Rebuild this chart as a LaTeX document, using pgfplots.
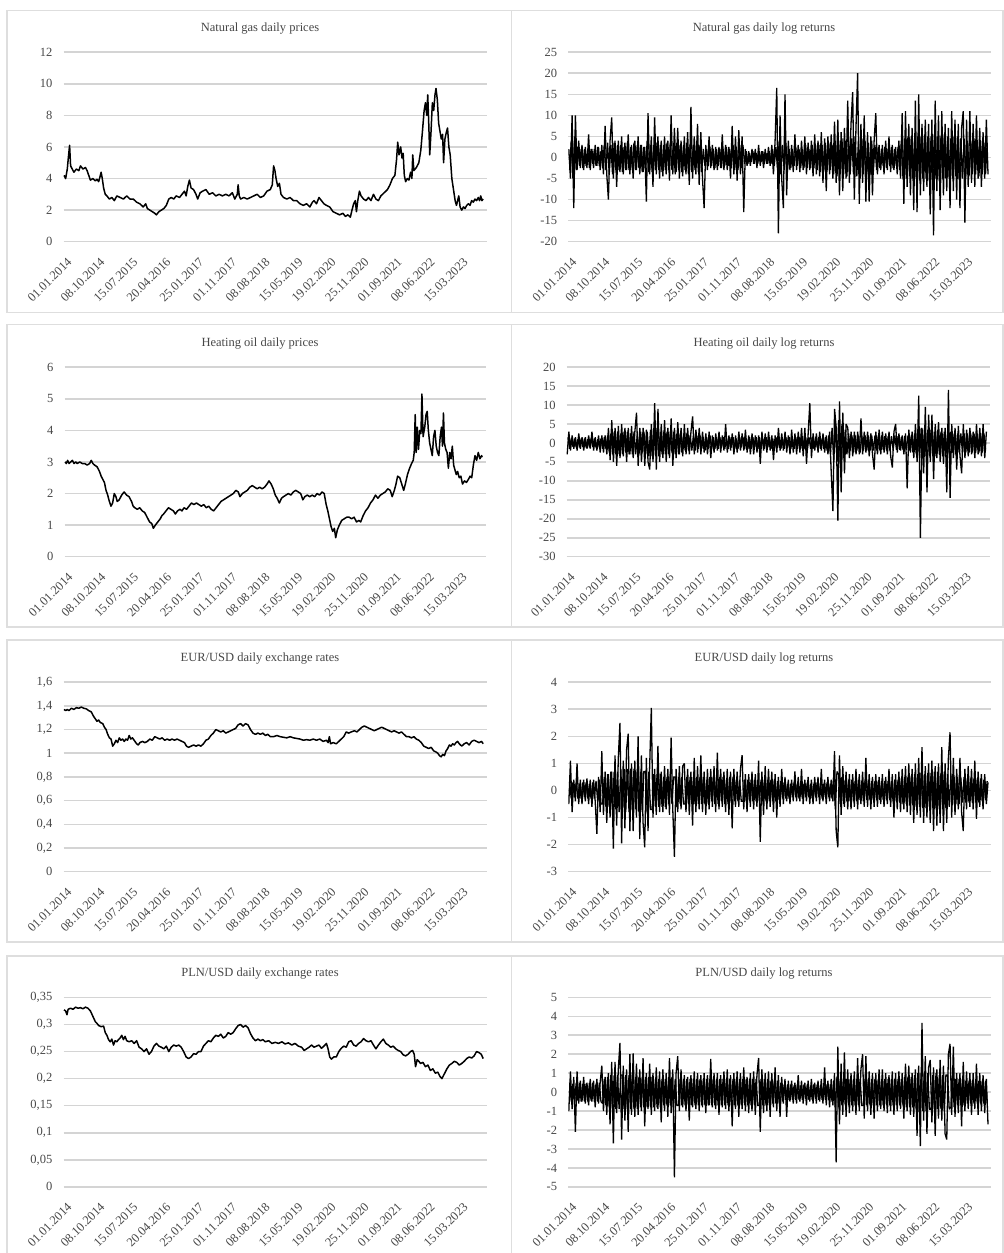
\documentclass[border=0pt]{standalone}
\usepackage{fontspec}
\setmainfont{Liberation Serif}
\usepackage{pgfplots}
\pgfplotsset{compat=1.18}
\definecolor{txt}{HTML}{474747}
\definecolor{grd}{HTML}{D4D4D4}
\definecolor{brd}{HTML}{DEDEDE}
\pgfplotsset{
 panel/.style={
  scale only axis, width=423pt, height=189.5pt, anchor=south west,
  xmin=-3, xmax=2560,
  xtick={0,200,...,2400},
  xticklabels={01.01.2014,08.10.2014,15.07.2015,20.04.2016,25.01.2017,01.11.2017,08.08.2018,15.05.2019,19.02.2020,25.11.2020,01.09.2021,08.06.2022,15.03.2023},
  axis line style={draw=none},
  major tick length=0pt,
  ymajorgrids, grid style={draw=grd, line width=1.6pt},
  tick label style={font=\fontsize{12.5}{14}\selectfont, text=txt},
  xticklabel style={xshift=2.5pt, yshift=-15pt, rotate=45, anchor=north east, inner sep=0pt},
  yticklabel style={anchor=east, inner sep=0pt, xshift=-11pt},
 },
 price/.style={black, line width=1.5pt, no marks, line join=round},
 ret/.style={black, line width=1.3pt, no marks, line join=miter, miter limit=2},
}
\newcommand{\ttl}[1]{{\fontsize{12.5}{15}\selectfont #1}}
\begin{document}
\begin{tikzpicture}
\path[use as bounding box] (0,0) rectangle (1004pt,1253pt);
% panel borders
\draw[brd, line width=1.2pt] (7pt,1242.3pt) rectangle (511.7pt,940.3pt);
\draw[brd, line width=1.2pt] (511.7pt,1242.3pt) rectangle (1003pt,940.3pt);
\draw[brd, line width=1.2pt] (7pt,928.5pt) rectangle (511.7pt,626pt);
\draw[brd, line width=1.2pt] (511.7pt,928.5pt) rectangle (1003pt,626pt);
\draw[brd, line width=1.2pt] (7pt,613pt) rectangle (511.7pt,311pt);
\draw[brd, line width=1.2pt] (511.7pt,613pt) rectangle (1003pt,311pt);
\draw[brd, line width=1.2pt] (7pt,297pt) rectangle (511.7pt,-5pt);
\draw[brd, line width=1.2pt] (511.7pt,297pt) rectangle (1003pt,-5pt);
% titles
\node[text=txt] at (260pt,1224pt) {\ttl{Natural gas daily prices}};
\node[text=txt] at (764pt,1224pt) {\ttl{Natural gas daily log returns}};
\node[text=txt] at (260pt,909pt) {\ttl{Heating oil daily prices}};
\node[text=txt] at (764pt,909pt) {\ttl{Heating oil daily log returns}};
\node[text=txt] at (260pt,594pt) {\ttl{EUR/USD daily exchange rates}};
\node[text=txt] at (764pt,594pt) {\ttl{EUR/USD daily log returns}};
\node[text=txt] at (260pt,279pt) {\ttl{PLN/USD daily exchange rates}};
\node[text=txt] at (764pt,279pt) {\ttl{PLN/USD daily log returns}};

% ---------- Natural gas prices
\begin{axis}[panel, at={(63.5pt,1011.3pt)}, ymin=0, ymax=12, ytick={0,2,...,12}, yticklabels={0,2,4,6,8,10,12}]
\addplot[price] coordinates {(0,4.2)(10,4.0)(20,4.6)(28,5.5)(34,6.1)(40,4.8)(50,4.6)(60,4.4)(75,4.6)(90,4.5)(100,4.8)(115,4.6)(130,4.7)(140,4.5)(150,4.2)(160,3.9)(175,4.0)(190,3.85)(200,3.95)(210,3.8)(218,4.1)(225,4.4)(232,4.0)(240,3.4)(250,3.0)(260,2.9)(275,2.7)(290,2.8)(305,2.6)(320,2.9)(340,2.8)(360,2.7)(380,2.9)(400,2.7)(420,2.7)(440,2.5)(460,2.4)(480,2.2)(495,2.4)(505,2.1)(520,2.0)(535,1.9)(550,1.8)(560,1.7)(575,1.9)(590,2.0)(605,2.1)(620,2.3)(635,2.7)(650,2.8)(665,2.7)(680,2.9)(700,2.8)(715,3.0)(730,3.2)(740,2.9)(750,3.5)(760,3.9)(770,3.4)(785,3.3)(800,3.0)(810,2.7)(825,3.1)(840,3.2)(860,3.3)(880,3.0)(900,3.1)(920,2.9)(940,3.0)(960,2.9)(980,3.0)(1000,2.9)(1020,3.1)(1035,2.7)(1050,3.0)(1055,3.6)(1062,2.9)(1070,2.7)(1090,2.8)(1110,2.7)(1130,2.8)(1150,2.9)(1170,3.0)(1190,2.8)(1210,2.9)(1230,3.2)(1250,3.3)(1262,3.6)(1270,4.8)(1278,4.5)(1285,4.0)(1295,3.5)(1305,3.7)(1315,3.0)(1330,2.8)(1350,2.7)(1370,2.8)(1390,2.6)(1410,2.6)(1430,2.4)(1450,2.3)(1470,2.4)(1490,2.2)(1505,2.5)(1515,2.6)(1530,2.4)(1545,2.8)(1560,2.6)(1575,2.4)(1590,2.3)(1610,2.2)(1630,1.9)(1650,1.8)(1670,1.7)(1690,1.8)(1705,1.6)(1720,1.7)(1735,1.55)(1745,2.0)(1755,2.4)(1765,2.6)(1772,1.9)(1780,2.6)(1790,3.2)(1800,2.9)(1815,2.7)(1830,2.6)(1845,2.8)(1860,2.6)(1875,3.0)(1890,2.7)(1905,2.6)(1920,2.9)(1940,3.1)(1960,3.3)(1975,3.6)(1990,4.0)(2005,4.2)(2015,5.2)(2022,6.3)(2030,5.5)(2040,6.0)(2048,5.3)(2055,5.6)(2062,4.2)(2070,3.8)(2080,4.0)(2090,3.9)(2100,4.4)(2108,4.0)(2113,5.5)(2120,4.5)(2135,4.7)(2150,5.0)(2162,5.8)(2172,7.0)(2182,8.3)(2190,8.8)(2198,8.0)(2204,9.3)(2210,7.5)(2216,5.5)(2224,7.0)(2232,8.8)(2240,8.3)(2248,9.3)(2254,9.7)(2262,9.0)(2270,7.5)(2278,7.0)(2286,6.5)(2294,6.8)(2300,5.0)(2308,6.5)(2316,6.9)(2324,7.2)(2332,6.0)(2340,5.5)(2350,4.0)(2360,3.3)(2370,2.6)(2378,2.3)(2385,2.6)(2392,2.9)(2400,2.2)(2410,2.0)(2420,2.2)(2430,2.1)(2440,2.3)(2450,2.4)(2460,2.3)(2470,2.6)(2480,2.5)(2490,2.7)(2500,2.6)(2510,2.8)(2518,2.6)(2525,2.9)(2532,2.6)(2540,2.7)};
\end{axis}

% ---------- Natural gas returns
\begin{axis}[panel, at={(568.3pt,1011.3pt)}, ymin=-20, ymax=25, ytick={-20,-15,...,25}, yticklabels={-20,-15,-10,-5,0,5,10,15,20,25}]
\addplot[ret] table[x expr=\coordindex*10, y index=0, header=false, row sep=\\] {
2\\ -5\\ 10\\ -12\\ 10\\ -3\\ 4\\ -2.5\\ 3\\ -3\\
2.5\\ -2.5\\ 5.5\\ -3\\ 2\\ -2.5\\ 3\\ -2\\ 2.5\\ -3\\
3\\ -4\\ 7.5\\ -4\\ -10\\ 4\\ 9.5\\ -5\\ 4\\ -7\\
4\\ -3.5\\ 5\\ -4\\ 3.5\\ -3\\ 5.5\\ -4\\ 3\\ -5\\
4\\ -3\\ 5\\ -4\\ 3\\ -3.5\\ 2.5\\ -10.5\\ 10.5\\ -4\\
5\\ -7\\ 9.5\\ -4\\ 5\\ -5\\ 4\\ -4.5\\ 5\\ -4\\
4\\ -5.5\\ 10\\ -4\\ 7\\ -3.5\\ 7\\ -5\\ 4\\ -4.5\\
5\\ -4\\ 6\\ -6.5\\ 12\\ -5\\ 5\\ -4\\ 8\\ -6.5\\
6\\ -5\\ -12\\ 3\\ -3\\ 5\\ -2.5\\ 3\\ -3\\ 2.5\\
-3\\ 2.5\\ -2.5\\ 5.5\\ -3\\ 3\\ -3\\ 2.5\\ -5\\ 7.5\\
-4\\ 5\\ -5.5\\ 6.5\\ -4\\ 5\\ -13\\ 2\\ -2\\ 1.5\\
-2\\ 2\\ -1.5\\ 2\\ -2.5\\ 3\\ -2\\ 1.5\\ -2.5\\ 2\\
-1.5\\ 2.5\\ -2\\ 3\\ -4\\ 4\\ 16.5\\ -18\\ 10\\ -5\\
-12\\ 15\\ -9\\ 4\\ -3\\ 3\\ -3.5\\ 5.5\\ -3\\ 3\\
-3.5\\ 4\\ -3\\ 5\\ -4\\ 3.5\\ -3\\ 4\\ -4.5\\ 5.5\\
-4\\ 4\\ -4.5\\ 6\\ -6\\ 4.5\\ -8\\ 5\\ -4\\ 5.5\\
-5\\ 8.5\\ -6\\ 9\\ -9\\ 6\\ -8\\ 7\\ -5\\ 13.5\\
-6\\ 8\\ 15.5\\ -10\\ 7\\ 20\\ -11\\ 8\\ -6\\ 10\\
-10.5\\ 6\\ -10.5\\ 5\\ -9\\ 4\\ 10.5\\ -4\\ 3\\ -3\\
3\\ -4\\ 4\\ -3\\ 5\\ -3.5\\ 3\\ -3\\ 2.5\\ -4\\
4\\ -5\\ 10.5\\ -11\\ 11\\ -7\\ 8\\ -9\\ 7\\ -12.5\\
13.5\\ -13\\ 15\\ -9\\ 8\\ -8\\ 9\\ -7\\ 8\\ -13.5\\
9\\ -18.5\\ 13.5\\ -8\\ 10\\ -12.5\\ 11\\ -9\\ 8\\ -8\\
7\\ -12\\ 11\\ -8\\ 9\\ -10\\ 8\\ -12\\ 7\\ 11\\
-15.5\\ 9\\ -7\\ 11\\ -6\\ 8\\ -7\\ 10\\ -5\\ 7\\
-7\\ 6\\ -5\\ 9\\ -4\\
};
\addplot[ret] table[x expr=\coordindex*10+5, y index=0, header=false, row sep=\\] {
-3\\ 4\\ -5\\ 5\\ -3\\ 2.5\\ -2\\ 2\\ -2.5\\ 2\\
-2\\ 2\\ -2.5\\ 2\\ -1.5\\ 2\\ -2\\ 2.5\\ -2\\ 1.5\\
-2.5\\ 3\\ -3\\ 3.5\\ -4\\ 3\\ -4\\ 3.5\\ -3\\ 3\\
-3\\ 3\\ -3.5\\ 2.5\\ -3\\ 3.5\\ -3\\ 2.5\\ -3\\ 3.5\\
-3\\ 3\\ -2.5\\ 3\\ -3.5\\ 2.5\\ -3\\ 4\\ -3.5\\ 3\\
-3.5\\ 3\\ -3\\ 3.5\\ -3\\ 3\\ -3.5\\ 3\\ -3\\ 3.5\\
-3\\ 3.5\\ -3\\ 3\\ -4\\ 3.5\\ -3\\ 3\\ -3.5\\ 3\\
-3\\ 3.5\\ -4\\ 3\\ -3.5\\ 3\\ -3\\ 4\\ -3.5\\ 3\\
-3.5\\ 2\\ -2\\ 2\\ -2\\ 2.5\\ -2\\ 2\\ -2.5\\ 2\\
-2\\ 2\\ -2.5\\ 2\\ -2\\ 2.5\\ -2\\ 2\\ -2.5\\ 3\\
-3\\ 2.5\\ -3\\ 3\\ -2.5\\ 3\\ -1.5\\ 1.5\\ -1.5\\ 1\\
-1\\ 1.5\\ -1.5\\ 1\\ -1.5\\ 1.5\\ -1\\ 1.5\\ -1.5\\ 1\\
-1.5\\ 1.5\\ -1.5\\ 2\\ -2\\ 2.5\\ -3\\ 4\\ -4\\ 3\\
-3\\ 3.5\\ -3\\ 2\\ -2.5\\ 2\\ -2\\ 2.5\\ -2\\ 2\\
-2.5\\ 2\\ -2.5\\ 3\\ -2.5\\ 2\\ -2.5\\ 3\\ -2.5\\ 3\\
-3\\ 3\\ -3.5\\ 3\\ -3\\ 3.5\\ -3\\ 3.5\\ -3\\ 3\\
-4\\ 4\\ -4.5\\ 4\\ -4\\ 4.5\\ -4\\ 4\\ -4.5\\ 4\\
-4\\ 4.5\\ -4\\ 5\\ -4.5\\ 4\\ -5\\ 4.5\\ -4\\ 4\\
-4\\ 3.5\\ -4\\ 4\\ -3.5\\ 3\\ -3\\ 2.5\\ -2.5\\ 2\\
-2\\ 2.5\\ -2.5\\ 2\\ -2\\ 2.5\\ -2.5\\ 2\\ -2\\ 2.5\\
-3\\ 4\\ -5\\ 4.5\\ -5\\ 5\\ -4.5\\ 5\\ -5\\ 4.5\\
-5\\ 5\\ -5.5\\ 5\\ -5\\ 5.5\\ -5\\ 5\\ -5.5\\ 5\\
-5\\ 5.5\\ -5\\ 5\\ -5.5\\ 5\\ -5\\ 5.5\\ -5\\ 5\\
-5\\ 4.5\\ -5\\ 5\\ -4.5\\ 5\\ -5\\ 4.5\\ -5\\ 4.5\\
-4.5\\ 4\\ -4.5\\ 4\\ -4\\ 4.5\\ -4\\ 4\\ -4.5\\ 4\\
-4\\ 3.5\\ -4\\ 3.5\\
};
\end{axis}

% ---------- Heating oil prices
\begin{axis}[panel, at={(64.5pt,696.3pt)}, width=421pt, ymin=0, ymax=6, ytick={0,1,...,6}, yticklabels={0,1,2,3,4,5,6}]
\addplot[price] coordinates {(0,3.0)(8,2.95)(16,3.05)(25,2.95)(35,3.0)(45,3.05)(55,2.95)(65,3.0)(75,2.95)(90,3.0)(105,2.95)(120,2.95)(135,2.9)(150,2.95)(160,3.05)(170,2.95)(180,2.9)(195,2.85)(210,2.7)(220,2.55)(230,2.45)(240,2.35)(250,2.1)(260,1.95)(270,1.75)(280,1.6)(290,1.7)(300,2.0)(310,1.9)(318,1.75)(330,1.8)(345,1.95)(360,2.05)(375,1.95)(390,1.9)(405,1.75)(415,1.6)(425,1.55)(440,1.5)(455,1.55)(470,1.45)(485,1.4)(500,1.25)(515,1.1)(528,1.05)(538,0.9)(550,1.0)(565,1.1)(580,1.2)(590,1.3)(600,1.35)(615,1.45)(630,1.55)(645,1.5)(660,1.45)(672,1.35)(685,1.45)(700,1.5)(712,1.45)(725,1.55)(740,1.5)(755,1.6)(770,1.7)(785,1.65)(800,1.7)(815,1.65)(830,1.6)(845,1.65)(860,1.55)(875,1.6)(890,1.5)(905,1.45)(920,1.55)(935,1.65)(950,1.75)(965,1.8)(980,1.85)(995,1.9)(1010,1.95)(1025,2.0)(1040,2.1)(1055,2.05)(1065,1.9)(1080,2.0)(1095,2.05)(1110,2.1)(1125,2.2)(1140,2.25)(1155,2.2)(1170,2.15)(1185,2.2)(1200,2.15)(1215,2.2)(1230,2.3)(1242,2.4)(1255,2.3)(1268,2.15)(1280,1.95)(1292,1.85)(1305,1.7)(1318,1.85)(1330,1.9)(1345,1.95)(1360,2.0)(1375,1.95)(1390,2.05)(1405,2.1)(1420,2.05)(1435,2.0)(1448,1.8)(1460,1.9)(1475,1.95)(1490,1.9)(1505,1.95)(1520,1.9)(1535,2.0)(1550,1.95)(1565,2.05)(1578,2.0)(1590,1.65)(1600,1.45)(1610,1.2)(1620,0.95)(1630,0.8)(1640,0.9)(1648,0.6)(1658,0.85)(1670,1.0)(1685,1.15)(1700,1.2)(1715,1.25)(1730,1.25)(1745,1.2)(1760,1.25)(1775,1.1)(1790,1.15)(1800,1.1)(1815,1.3)(1830,1.45)(1845,1.55)(1860,1.7)(1875,1.8)(1890,1.95)(1905,1.85)(1920,1.95)(1935,2.0)(1950,2.05)(1965,2.15)(1980,2.1)(1992,1.9)(2005,2.1)(2015,2.3)(2025,2.55)(2038,2.5)(2050,2.3)(2062,2.1)(2072,2.3)(2085,2.6)(2098,2.8)(2110,2.95)(2120,3.05)(2126,3.3)(2132,4.5)(2138,3.3)(2145,4.1)(2152,3.4)(2160,4.0)(2167,3.9)(2173,5.15)(2180,3.8)(2190,4.1)(2198,4.5)(2205,4.6)(2212,4.0)(2220,3.6)(2228,3.4)(2236,3.2)(2244,3.8)(2252,4.0)(2260,3.5)(2268,3.3)(2276,3.2)(2284,3.8)(2292,4.1)(2298,3.5)(2304,4.55)(2310,3.6)(2318,3.4)(2326,3.3)(2334,2.8)(2342,3.3)(2350,3.1)(2358,3.5)(2366,2.9)(2374,2.75)(2382,2.6)(2390,2.7)(2400,2.5)(2410,2.55)(2420,2.3)(2432,2.4)(2444,2.35)(2456,2.45)(2466,2.55)(2476,2.5)(2486,2.9)(2496,3.2)(2506,3.05)(2516,3.3)(2526,3.1)(2536,3.2)(2540,3.15)};
\end{axis}

% ---------- Heating oil returns
\begin{axis}[panel, at={(566.7pt,696.3pt)}, ymin=-30, ymax=20, ytick={-30,-25,...,20}, yticklabels={-30,-25,-20,-15,-10,-5,0,5,10,15,20}]
\addplot[ret] table[x expr=\coordindex*10, y index=0, header=false, row sep=\\] {
-3\\ 3\\ -2\\ 2\\ -1.5\\ 1.5\\ -2\\ 2.5\\ -1.5\\ 1.5\\
-2\\ 1.5\\ -1.5\\ 2\\ -1.5\\ 3\\ -2\\ 1.5\\ -2\\ 2\\
-2.5\\ 2\\ -2.5\\ 2\\ -3\\ 4\\ -4.5\\ 6\\ -5\\ 4\\
-6\\ 4.5\\ -4\\ 5\\ -3.5\\ 4\\ -5\\ 4\\ -3\\ 4.5\\
-4\\ 3\\ 8\\ -6\\ 4\\ -5\\ 4\\ -6\\ 3.5\\ -5\\
-7\\ 5\\ -5\\ 10.5\\ -7\\ 9\\ -5\\ 5\\ -4\\ 6\\
-5\\ 4\\ -4\\ 6.5\\ -6\\ 4\\ -4\\ 5.5\\ -3\\ 4\\
-3.5\\ 5\\ -3\\ 4\\ -3\\ 3\\ 7\\ -3\\ 3.5\\ -2.5\\
4\\ -3\\ 3\\ -2.5\\ 2.5\\ -3\\ 3\\ -4\\ 2\\ -2.5\\
2.5\\ -2\\ 3\\ -2.5\\ 2\\ -2\\ 5\\ -2.5\\ 2\\ -2\\
2.5\\ -3\\ 2\\ -2.5\\ 3\\ -2\\ 2.5\\ -2\\ 3.5\\ -2.5\\
2\\ -3\\ 2.5\\ -3\\ 2\\ -2.5\\ 2\\ -5.5\\ 3\\ -2\\
2.5\\ -2.5\\ 3\\ -2\\ 2\\ -4.5\\ 2\\ -2.5\\ 4\\ -2\\
2.5\\ -2\\ 3\\ -2.5\\ 2\\ -3\\ 3.5\\ -2.5\\ 2.5\\ -3\\
3\\ -2.5\\ 4\\ -3.5\\ 4\\ -5.5\\ 2.5\\ 10.5\\ -4\\ 2.5\\
-2\\ 2.5\\ -2.5\\ 3\\ -2\\ 2.5\\ -2.5\\ 2\\ -3\\ 3\\
-8\\ -18\\ 9\\ 4\\ -20.5\\ 11\\ -13\\ 8\\ -8\\ 5\\
4\\ -4\\ 3\\ -3.5\\ 3\\ -3\\ 3\\ -3\\ 6.5\\ -3\\
3\\ -2.5\\ 3\\ -3.5\\ 2.5\\ -3\\ -7\\ 3\\ -3\\ 3.5\\
-3\\ 3\\ -2.5\\ 2.5\\ -3\\ 3\\ -3.5\\ -6.5\\ 3\\ 5\\
-2.5\\ 2.5\\ -2\\ 2\\ -3\\ 2.5\\ -12\\ 3.5\\ -2.5\\ 3\\
-4\\ 5\\ -5\\ 12.5\\ -25\\ 4\\ -8\\ 9.5\\ -13\\ 7.5\\
-5\\ 7.5\\ -9.5\\ 5\\ -4\\ 5.5\\ -5\\ 4\\ -5.5\\ 4\\
-13\\ 14\\ -14.5\\ 5\\ -4\\ 4\\ -7\\ 4.5\\ -3.5\\ -8\\
5\\ -4\\ 3.5\\ -3.5\\ 4\\ -3\\ 3\\ -4\\ 5\\ -3\\
4\\ -3.5\\ 5\\ -4\\ 3\\
};
\addplot[ret] table[x expr=\coordindex*10+5, y index=0, header=false, row sep=\\] {
1.5\\ -1.5\\ 1.2\\ -1\\ 1.2\\ -1.2\\ 1\\ -1.2\\ 1.2\\ -1\\
1.2\\ -1.2\\ 1\\ -1.2\\ 1.2\\ -1\\ 1.2\\ -1.2\\ 1\\ -1.2\\
1.2\\ -1.5\\ 1.5\\ -1.5\\ 2\\ -2.5\\ 2.5\\ -3\\ 3\\ -3\\
3\\ -3\\ 2.5\\ -3\\ 3\\ -2.5\\ 3\\ -3\\ 2.5\\ -3\\
3\\ -3\\ 2.5\\ -3\\ 3\\ -2.5\\ 3\\ -3\\ 3\\ -3.5\\
3.5\\ -3.5\\ 4\\ -3.5\\ 4\\ -3.5\\ 3\\ -3\\ 3\\ -3\\
3\\ -3\\ 3\\ -2.5\\ 3\\ -3\\ 2.5\\ -3\\ 2.5\\ -2.5\\
2\\ -2\\ 2.5\\ -2\\ 2\\ -2\\ 2\\ -2\\ 2\\ -1.5\\
2\\ -1.5\\ 1.5\\ -2\\ 1.5\\ -1.5\\ 2\\ -1.5\\ 1.5\\ -1.5\\
1.5\\ -1.5\\ 1.5\\ -1.2\\ 1.5\\ -1.5\\ 1.2\\ -1.5\\ 1.5\\ -1.2\\
1.5\\ -1.5\\ 1.2\\ -1.5\\ 1.5\\ -1.2\\ 1.5\\ -1.5\\ 1.2\\ -1.5\\
1.5\\ -1.5\\ 1.5\\ -1.2\\ 1.5\\ -1.5\\ 1.5\\ -1.5\\ 1.2\\ -1.5\\
1.5\\ -1.2\\ 1.5\\ -1.5\\ 1.2\\ -1.5\\ 1.5\\ -1.2\\ 1.5\\ -1.5\\
1.2\\ -1.5\\ 1.5\\ -1.2\\ 1.5\\ -1.5\\ 1.2\\ -1.5\\ 1.5\\ -1.5\\
1.5\\ -1.5\\ 1.8\\ -1.5\\ 1.5\\ -1.8\\ 1.5\\ -1.5\\ 1.5\\ -1.5\\
1.5\\ -1.2\\ 1.5\\ -1.5\\ 1.2\\ -1.5\\ 1.5\\ -2\\ 2\\ -3\\
4\\ -5\\ 5\\ -5\\ 6\\ -5\\ 5\\ -4\\ 3.5\\ -3\\
2.5\\ -2\\ 2\\ -2.5\\ 2\\ -2\\ 2\\ -2.5\\ 2\\ -2\\
2\\ -2\\ 2\\ -2\\ 2\\ -2\\ 2\\ -2\\ 2\\ -2\\
2\\ -1.8\\ 1.8\\ -2\\ 1.8\\ -2\\ 1.8\\ -1.8\\ 2\\ -1.8\\
1.8\\ -1.8\\ 1.5\\ -1.8\\ 1.8\\ -1.8\\ 2\\ -2\\ 2\\ -2.5\\
2.5\\ -3\\ 3.5\\ -4\\ 4\\ -4\\ 4\\ -3.5\\ 3.5\\ -3.5\\
3.5\\ -3.5\\ 3\\ -3.5\\ 3.5\\ -3\\ 3\\ -3.5\\ 3\\ -3\\
3\\ -3\\ 3\\ -2.5\\ 2.5\\ -3\\ 2.5\\ -2.5\\ 2.5\\ -2.5\\
2.5\\ -2.5\\ 2.5\\ -2.5\\ 2.5\\ -2.5\\ 2.5\\ -2.5\\ 2.5\\ -2.5\\
2.5\\ -2.5\\ 2.5\\ -2\\
};
\end{axis}

% ---------- EUR/USD rates
\begin{axis}[panel, at={(63.5pt,381.3pt)}, ymin=0, ymax=1.6, ytick={0,0.2,...,1.6}, yticklabels={0,{0,2},{0,4},{0,6},{0,8},1,{1,2},{1,4},{1,6}}]
\addplot[price] coordinates {(0,1.37)(10,1.36)(20,1.37)(30,1.36)(45,1.38)(60,1.37)(75,1.385)(90,1.38)(105,1.39)(120,1.38)(135,1.375)(150,1.36)(165,1.35)(180,1.31)(190,1.29)(200,1.27)(210,1.28)(220,1.26)(235,1.25)(245,1.22)(255,1.2)(265,1.16)(275,1.13)(285,1.12)(295,1.06)(305,1.08)(315,1.11)(325,1.09)(335,1.13)(345,1.11)(355,1.12)(365,1.1)(375,1.12)(385,1.11)(395,1.15)(405,1.12)(415,1.13)(425,1.11)(440,1.08)(450,1.07)(460,1.09)(475,1.1)(490,1.09)(505,1.1)(520,1.12)(535,1.11)(550,1.14)(565,1.13)(580,1.12)(595,1.13)(610,1.11)(625,1.12)(640,1.11)(655,1.12)(670,1.11)(685,1.12)(700,1.11)(715,1.1)(730,1.09)(742,1.06)(755,1.05)(770,1.06)(785,1.07)(800,1.06)(815,1.07)(830,1.06)(845,1.08)(860,1.11)(875,1.12)(890,1.15)(905,1.17)(920,1.2)(935,1.19)(950,1.18)(965,1.19)(980,1.17)(995,1.18)(1010,1.19)(1025,1.2)(1040,1.21)(1055,1.24)(1070,1.25)(1085,1.23)(1100,1.25)(1115,1.24)(1130,1.2)(1145,1.17)(1160,1.16)(1175,1.17)(1190,1.16)(1205,1.17)(1220,1.15)(1235,1.16)(1250,1.14)(1270,1.14)(1290,1.15)(1310,1.14)(1330,1.135)(1350,1.13)(1370,1.14)(1390,1.13)(1410,1.125)(1430,1.12)(1450,1.11)(1470,1.115)(1490,1.11)(1510,1.12)(1530,1.11)(1550,1.12)(1570,1.1)(1590,1.11)(1600,1.09)(1608,1.14)(1615,1.08)(1630,1.09)(1650,1.08)(1665,1.1)(1680,1.12)(1695,1.14)(1710,1.18)(1725,1.17)(1740,1.18)(1760,1.19)(1775,1.18)(1790,1.2)(1805,1.22)(1820,1.23)(1835,1.22)(1850,1.21)(1865,1.2)(1880,1.19)(1895,1.2)(1910,1.21)(1925,1.22)(1940,1.21)(1955,1.2)(1970,1.19)(1985,1.18)(2000,1.19)(2015,1.18)(2030,1.17)(2045,1.18)(2060,1.16)(2075,1.14)(2090,1.14)(2105,1.13)(2120,1.14)(2135,1.12)(2150,1.11)(2165,1.09)(2180,1.06)(2195,1.05)(2210,1.04)(2225,1.05)(2240,1.02)(2255,1.01)(2265,1.0)(2275,0.98)(2285,0.97)(2295,0.99)(2305,0.98)(2315,1.02)(2325,1.04)(2335,1.07)(2345,1.06)(2355,1.08)(2365,1.07)(2375,1.09)(2385,1.1)(2395,1.08)(2410,1.06)(2425,1.08)(2440,1.09)(2455,1.07)(2470,1.1)(2485,1.11)(2500,1.1)(2515,1.09)(2530,1.1)(2540,1.08)};
\end{axis}

% ---------- EUR/USD returns
\begin{axis}[panel, at={(568.3pt,381.3pt)}, ymin=-3, ymax=4, ytick={-3,-2,...,4}, yticklabels={-3,-2,-1,0,1,2,3,4}]
\addplot[ret] table[x expr=\coordindex*10, y index=0, header=false, row sep=\\] {
-0.5\\ 1.1\\ -0.8\\ 0.4\\ -0.4\\ 1.0\\ -0.5\\ 0.4\\ -0.5\\ 0.4\\
-0.4\\ 0.45\\ -0.5\\ 0.4\\ -0.6\\ 0.4\\ -0.4\\ -1.6\\ 0.5\\ -0.8\\
1.45\\ -0.9\\ 0.7\\ -1.2\\ 0.6\\ -1.0\\ 0.7\\ -2.15\\ 1.3\\ -1.3\\
1.2\\ 2.5\\ -1.95\\ 1.1\\ -1.4\\ 1.5\\ 2.1\\ -1.5\\ 1.0\\ -1.5\\
1.1\\ -1.0\\ 2.0\\ -1.8\\ 1.3\\ -1.2\\ -2.1\\ 1.2\\ -1.5\\ 0.9\\
3.05\\ -1.0\\ 0.8\\ -0.9\\ 1.65\\ -0.8\\ 0.7\\ -0.8\\ 0.9\\ -0.7\\
0.8\\ -0.9\\ 1.95\\ -0.7\\ -2.45\\ 0.8\\ -0.8\\ 0.9\\ -0.7\\ 0.9\\
1.0\\ -0.8\\ 0.8\\ -0.9\\ 0.7\\ -1.3\\ 1.2\\ -0.8\\ 0.9\\ -0.7\\
1.3\\ -0.8\\ 0.7\\ -0.9\\ 0.8\\ -0.7\\ 0.8\\ -0.6\\ 0.9\\ -0.8\\
1.4\\ -0.7\\ 0.8\\ -0.6\\ 0.7\\ -0.8\\ 0.8\\ -0.9\\ 0.7\\ -1.4\\
0.8\\ -0.6\\ 0.7\\ -0.6\\ 0.8\\ 1.3\\ -0.7\\ 0.6\\ -0.8\\ 0.6\\
-0.6\\ 0.7\\ -0.7\\ 0.6\\ -0.6\\ 1.1\\ -1.9\\ 0.7\\ -0.9\\ 0.9\\
-0.7\\ 0.8\\ -0.6\\ 0.7\\ -0.8\\ 0.6\\ -1.0\\ 0.5\\ -0.6\\ 0.8\\
-0.5\\ 0.5\\ -0.4\\ 0.4\\ -0.5\\ 0.4\\ -0.4\\ 0.7\\ -0.4\\ 0.5\\
-0.4\\ 0.8\\ -0.5\\ 0.4\\ -0.4\\ 0.5\\ -0.5\\ 0.4\\ -0.5\\ 0.5\\
-0.4\\ 0.5\\ -0.5\\ 0.8\\ -0.4\\ 0.4\\ -0.5\\ 0.5\\ -0.4\\ 0.4\\
-0.4\\ 1.45\\ -1.5\\ -2.1\\ 1.3\\ -0.9\\ 0.9\\ -0.6\\ 0.7\\ -0.7\\
0.6\\ -0.7\\ 0.6\\ -0.6\\ 0.8\\ -0.7\\ 0.6\\ -0.5\\ 0.7\\ -0.6\\
1.2\\ -0.6\\ 0.6\\ -0.7\\ 0.5\\ -0.6\\ 0.6\\ -0.6\\ 0.5\\ -0.5\\
0.6\\ -0.6\\ 0.5\\ -0.5\\ 0.8\\ -0.6\\ 0.6\\ -1.0\\ 0.6\\ -0.7\\
0.7\\ -0.8\\ 0.8\\ -0.7\\ 0.9\\ -0.8\\ 1.0\\ -0.9\\ 0.8\\ -1.2\\
1.0\\ -0.9\\ 1.2\\ -1.0\\ 1.6\\ -1.2\\ 0.9\\ -1.0\\ 1.0\\ -1.2\\
1.1\\ -1.5\\ 0.9\\ -1.3\\ 1.0\\ -1.2\\ 1.6\\ -1.5\\ 1.0\\ -1.2\\
1.2\\ 2.15\\ -1.0\\ 1.2\\ -0.9\\ 0.8\\ -0.7\\ 1.2\\ -0.8\\ -1.5\\
0.8\\ -0.7\\ 0.9\\ -0.6\\ 0.8\\ -0.7\\ 1.1\\ -1.05\\ 0.7\\ -0.6\\
0.6\\ -0.7\\ 0.6\\ -0.5\\ 0.3\\
};
\addplot[ret] table[x expr=\coordindex*10+5, y index=0, header=false, row sep=\\] {
0.3\\ -0.3\\ 0.3\\ -0.25\\ 0.3\\ -0.3\\ 0.25\\ -0.3\\ 0.3\\ -0.25\\
0.3\\ -0.3\\ 0.25\\ -0.3\\ 0.3\\ -0.3\\ 0.35\\ -0.4\\ 0.4\\ -0.5\\
-0.5\\ 0.5\\ -0.6\\ 0.6\\ -0.6\\ 0.7\\ -0.7\\ 0.7\\ -0.7\\ 0.7\\
-0.8\\ 0.8\\ -0.8\\ 0.8\\ -0.8\\ 0.8\\ -0.8\\ 0.8\\ -0.7\\ 0.8\\
-0.7\\ 0.8\\ -0.8\\ 0.7\\ -0.8\\ 0.7\\ 0.7\\ -0.8\\ 0.7\\ -0.7\\
-0.7\\ 0.6\\ -0.6\\ 0.6\\ -0.6\\ 0.6\\ -0.6\\ 0.5\\ -0.6\\ 0.5\\
-0.5\\ 0.6\\ -0.5\\ 0.5\\ 0.5\\ -0.6\\ 0.5\\ -0.5\\ 0.5\\ -0.5\\
-0.5\\ 0.5\\ -0.5\\ 0.5\\ -0.5\\ 0.5\\ -0.5\\ 0.5\\ -0.5\\ 0.5\\
-0.5\\ 0.5\\ -0.5\\ 0.4\\ -0.5\\ 0.5\\ -0.4\\ 0.5\\ -0.5\\ 0.4\\
-0.5\\ 0.5\\ -0.4\\ 0.5\\ -0.5\\ 0.4\\ -0.5\\ 0.5\\ -0.4\\ 0.5\\
-0.4\\ 0.4\\ -0.4\\ 0.4\\ -0.4\\ -0.4\\ 0.4\\ -0.4\\ 0.4\\ -0.4\\
0.4\\ -0.4\\ 0.4\\ -0.4\\ 0.4\\ -0.4\\ 0.4\\ -0.4\\ 0.4\\ -0.4\\
0.4\\ -0.4\\ 0.4\\ -0.4\\ 0.4\\ -0.4\\ 0.35\\ -0.35\\ 0.35\\ -0.3\\
0.3\\ -0.3\\ 0.25\\ -0.3\\ 0.25\\ -0.25\\ 0.3\\ -0.25\\ 0.25\\ -0.3\\
0.25\\ -0.3\\ 0.25\\ -0.25\\ 0.3\\ -0.25\\ 0.25\\ -0.3\\ 0.25\\ -0.25\\
0.3\\ -0.25\\ 0.25\\ -0.3\\ 0.25\\ -0.25\\ 0.3\\ -0.25\\ 0.25\\ -0.3\\
0.5\\ -0.7\\ 0.7\\ 0.6\\ -0.5\\ 0.5\\ -0.5\\ 0.4\\ -0.4\\ 0.4\\
-0.4\\ 0.4\\ -0.4\\ 0.35\\ -0.4\\ 0.4\\ -0.35\\ 0.35\\ -0.4\\ 0.35\\
-0.35\\ 0.35\\ -0.35\\ 0.35\\ -0.35\\ 0.35\\ -0.35\\ 0.35\\ -0.35\\ 0.35\\
-0.35\\ 0.35\\ -0.35\\ 0.35\\ -0.35\\ 0.35\\ -0.4\\ 0.4\\ -0.4\\ 0.4\\
-0.45\\ 0.45\\ -0.5\\ 0.5\\ -0.5\\ 0.5\\ -0.55\\ 0.55\\ -0.55\\ 0.6\\
-0.6\\ 0.6\\ -0.6\\ 0.65\\ -0.65\\ 0.6\\ -0.65\\ 0.65\\ -0.6\\ 0.65\\
-0.65\\ 0.7\\ -0.65\\ 0.7\\ -0.7\\ 0.65\\ -0.7\\ 0.7\\ -0.65\\ 0.6\\
-0.6\\ 0.55\\ -0.55\\ 0.5\\ -0.5\\ 0.5\\ -0.5\\ 0.5\\ -0.45\\ 0.5\\
-0.45\\ 0.45\\ -0.45\\ 0.45\\ -0.45\\ 0.45\\ -0.45\\ 0.45\\ -0.45\\ 0.45\\
-0.4\\ 0.4\\ -0.35\\ 0.35\\
};
\end{axis}

% ---------- PLN/USD rates
\begin{axis}[panel, at={(63.5pt,66.1pt)}, ymin=0, ymax=0.35, ytick={0,0.05,0.1,0.15,0.2,0.25,0.3,0.35}, yticklabels={0,{0,05},{0,1},{0,15},{0,2},{0,25},{0,3},{0,35}}]
\addplot[price] coordinates {(0,0.327)(10,0.325)(18,0.318)(25,0.328)(40,0.33)(55,0.328)(70,0.332)(85,0.33)(100,0.331)(115,0.329)(130,0.332)(145,0.33)(160,0.325)(175,0.315)(190,0.305)(200,0.302)(210,0.298)(225,0.296)(240,0.297)(250,0.285)(260,0.28)(270,0.272)(280,0.268)(290,0.273)(300,0.262)(310,0.27)(320,0.268)(330,0.272)(340,0.275)(350,0.28)(360,0.272)(370,0.278)(380,0.27)(395,0.268)(410,0.27)(425,0.265)(440,0.27)(455,0.258)(470,0.255)(485,0.25)(500,0.255)(515,0.245)(530,0.25)(545,0.26)(560,0.265)(575,0.26)(590,0.258)(605,0.255)(620,0.26)(635,0.25)(650,0.258)(665,0.262)(680,0.26)(695,0.262)(710,0.258)(725,0.25)(740,0.24)(755,0.237)(770,0.24)(785,0.246)(800,0.245)(815,0.25)(830,0.25)(845,0.26)(860,0.265)(875,0.27)(890,0.268)(905,0.275)(920,0.28)(935,0.278)(950,0.282)(965,0.275)(980,0.278)(995,0.285)(1010,0.282)(1025,0.285)(1040,0.292)(1055,0.298)(1070,0.3)(1085,0.295)(1100,0.298)(1115,0.294)(1130,0.283)(1145,0.275)(1160,0.27)(1175,0.273)(1190,0.27)(1205,0.272)(1220,0.268)(1240,0.27)(1260,0.265)(1280,0.267)(1300,0.265)(1320,0.268)(1340,0.264)(1360,0.266)(1380,0.262)(1400,0.265)(1420,0.26)(1440,0.258)(1455,0.252)(1470,0.255)(1485,0.258)(1500,0.262)(1515,0.258)(1530,0.26)(1545,0.262)(1560,0.256)(1575,0.26)(1590,0.265)(1600,0.255)(1610,0.24)(1620,0.236)(1635,0.24)(1650,0.24)(1665,0.25)(1680,0.256)(1695,0.26)(1710,0.258)(1725,0.268)(1740,0.27)(1755,0.262)(1770,0.26)(1785,0.265)(1800,0.268)(1815,0.274)(1830,0.27)(1845,0.268)(1860,0.27)(1875,0.262)(1890,0.255)(1905,0.262)(1920,0.268)(1935,0.273)(1950,0.265)(1965,0.262)(1980,0.258)(1995,0.26)(2010,0.255)(2025,0.252)(2040,0.25)(2055,0.244)(2070,0.242)(2085,0.245)(2100,0.25)(2112,0.252)(2122,0.245)(2130,0.222)(2140,0.235)(2150,0.232)(2160,0.228)(2175,0.23)(2190,0.222)(2205,0.225)(2220,0.215)(2235,0.218)(2250,0.21)(2265,0.212)(2278,0.204)(2290,0.2)(2300,0.206)(2310,0.212)(2320,0.218)(2335,0.225)(2350,0.228)(2365,0.232)(2380,0.23)(2395,0.225)(2410,0.228)(2425,0.232)(2440,0.237)(2455,0.24)(2470,0.238)(2485,0.242)(2500,0.25)(2515,0.248)(2528,0.245)(2540,0.237)};
\end{axis}

% ---------- PLN/USD returns
\begin{axis}[panel, at={(568.3pt,66.1pt)}, ymin=-5, ymax=5, ytick={-5,-4,...,5}, yticklabels={-5,-4,-3,-2,-1,0,1,2,3,4,5}]
\addplot[ret] table[x expr=\coordindex*10, y index=0, header=false, row sep=\\] {
-1.0\\ 1.1\\ -0.9\\ 0.8\\ -2.1\\ 1.1\\ -0.6\\ 0.6\\ -0.5\\ 0.8\\
-0.6\\ 0.5\\ -0.7\\ 0.7\\ -0.5\\ 0.6\\ -0.8\\ 0.7\\ -0.6\\ 0.5\\
1.4\\ -1.0\\ 0.8\\ -1.2\\ 1.0\\ -1.7\\ 1.6\\ -2.7\\ 1.6\\ -1.1\\
1.2\\ 2.6\\ -2.5\\ 1.4\\ -1.5\\ 1.2\\ -2.1\\ 2.0\\ -1.2\\ 2.05\\
-1.3\\ 1.5\\ -1.2\\ 1.2\\ -1.0\\ 1.8\\ -1.8\\ 1.0\\ -0.9\\ 1.5\\
-1.2\\ 1.0\\ -1.0\\ 1.3\\ -0.9\\ 1.1\\ -1.6\\ 1.2\\ -1.0\\ 1.0\\
-1.3\\ 1.8\\ -1.1\\ 1.2\\ -4.5\\ 1.0\\ 1.9\\ -1.0\\ 1.2\\ -0.8\\
0.9\\ -1.0\\ 0.8\\ -1.5\\ 0.9\\ -0.8\\ 1.1\\ -0.9\\ 1.0\\ -1.0\\
0.9\\ -0.8\\ 1.0\\ -1.1\\ 0.9\\ -0.7\\ 1.75\\ -0.8\\ 1.0\\ -0.9\\
1.0\\ -1.2\\ 0.9\\ -0.8\\ 1.1\\ -0.9\\ 1.2\\ -1.0\\ 0.9\\ -1.8\\
1.0\\ -0.9\\ 1.1\\ -1.3\\ 1.0\\ -0.9\\ 1.3\\ -1.0\\ 0.8\\ -1.1\\
1.0\\ -1.0\\ 1.1\\ -1.2\\ 0.9\\ 1.8\\ -2.1\\ 1.2\\ -1.1\\ 1.0\\
-1.0\\ 1.1\\ -1.3\\ 1.0\\ -0.8\\ 1.3\\ -1.0\\ 0.9\\ -1.3\\ 0.8\\
-0.6\\ 0.7\\ -1.3\\ 0.6\\ -0.5\\ 0.6\\ -0.6\\ 0.5\\ -0.6\\ 0.9\\
-0.5\\ 0.6\\ -0.6\\ 0.5\\ -0.7\\ 0.6\\ -0.5\\ 0.7\\ -0.6\\ 0.5\\
-0.6\\ 0.6\\ -0.5\\ 0.7\\ -0.6\\ 1.3\\ -0.7\\ 0.6\\ -0.8\\ 0.7\\
-0.7\\ 1.0\\ -3.7\\ 2.4\\ -1.7\\ 1.5\\ -1.2\\ 2.1\\ -1.3\\ 1.2\\
-1.1\\ 1.0\\ -1.0\\ 1.1\\ -1.2\\ 1.8\\ -1.0\\ 1.2\\ 2.0\\ -1.4\\
1.9\\ -1.0\\ 1.1\\ -1.2\\ 1.0\\ -1.4\\ 1.0\\ -1.0\\ 1.2\\ -0.9\\
1.2\\ -1.0\\ 1.0\\ -1.1\\ 0.9\\ -1.0\\ 1.1\\ -1.2\\ 1.0\\ -1.0\\
1.1\\ -0.9\\ 1.0\\ -1.4\\ 1.5\\ -1.0\\ 1.4\\ -1.2\\ 1.0\\ -1.3\\
1.2\\ -2.3\\ 1.4\\ -2.85\\ 3.65\\ -1.5\\ 1.9\\ -2.2\\ 1.3\\ 1.7\\
-1.6\\ 1.3\\ -2.3\\ 1.2\\ -1.4\\ 1.7\\ -1.5\\ 1.4\\ -2.2\\ -2.5\\
2.0\\ 2.55\\ -1.2\\ 2.4\\ -1.3\\ 1.0\\ -1.1\\ 1.0\\ -1.8\\ 1.6\\
-1.0\\ 1.1\\ -0.9\\ 1.0\\ -1.2\\ 1.0\\ -0.9\\ 1.5\\ -1.2\\ 1.0\\
-1.0\\ 0.9\\ -1.1\\ 0.7\\ -1.7\\
};
\addplot[ret] table[x expr=\coordindex*10+5, y index=0, header=false, row sep=\\] {
0.5\\ -0.5\\ 0.45\\ -0.5\\ 0.5\\ -0.45\\ 0.5\\ -0.5\\ 0.45\\ -0.5\\
0.45\\ -0.5\\ 0.5\\ -0.45\\ 0.5\\ -0.5\\ 0.45\\ -0.5\\ 0.5\\ -0.5\\
-0.6\\ 0.7\\ -0.7\\ 0.8\\ -0.8\\ 0.9\\ -0.9\\ 0.9\\ -0.9\\ 0.9\\
-0.9\\ 0.9\\ 0.9\\ -0.9\\ 0.9\\ -0.9\\ 0.9\\ -0.9\\ 0.9\\ -0.9\\
0.8\\ -0.9\\ 0.8\\ -0.8\\ 0.8\\ -0.8\\ 0.8\\ -0.8\\ 0.8\\ -0.8\\
0.8\\ -0.8\\ 0.7\\ -0.8\\ 0.7\\ -0.8\\ 0.7\\ -0.7\\ 0.7\\ -0.7\\
0.8\\ -0.7\\ 0.8\\ -0.8\\ 0.7\\ -0.7\\ -0.7\\ 0.7\\ -0.7\\ 0.7\\
-0.7\\ 0.7\\ -0.7\\ 0.7\\ -0.7\\ 0.7\\ -0.7\\ 0.7\\ -0.7\\ 0.7\\
-0.7\\ 0.7\\ -0.7\\ 0.7\\ -0.7\\ 0.7\\ -0.7\\ 0.7\\ -0.7\\ 0.7\\
-0.7\\ 0.7\\ -0.7\\ 0.7\\ -0.7\\ 0.7\\ -0.7\\ 0.7\\ -0.7\\ 0.7\\
-0.7\\ 0.7\\ -0.7\\ 0.7\\ -0.7\\ 0.7\\ -0.7\\ 0.7\\ -0.7\\ 0.7\\
-0.7\\ 0.7\\ -0.7\\ 0.7\\ -0.7\\ -0.7\\ 0.7\\ -0.7\\ 0.7\\ -0.7\\
0.7\\ -0.7\\ 0.6\\ -0.6\\ 0.6\\ -0.6\\ 0.6\\ -0.6\\ 0.5\\ -0.5\\
0.4\\ -0.4\\ 0.4\\ -0.4\\ 0.4\\ -0.4\\ 0.35\\ -0.4\\ 0.4\\ -0.4\\
0.35\\ -0.4\\ 0.4\\ -0.35\\ 0.4\\ -0.4\\ 0.35\\ -0.4\\ 0.4\\ -0.35\\
0.4\\ -0.4\\ 0.35\\ -0.4\\ 0.4\\ -0.4\\ 0.4\\ -0.4\\ 0.4\\ -0.5\\
0.6\\ -0.8\\ 0.8\\ -0.8\\ 0.7\\ -0.7\\ 0.7\\ -0.7\\ 0.7\\ -0.7\\
0.7\\ -0.7\\ 0.7\\ -0.7\\ 0.7\\ -0.7\\ 0.7\\ -0.7\\ -0.7\\ 0.7\\
-0.7\\ 0.7\\ -0.7\\ 0.7\\ -0.7\\ 0.7\\ -0.7\\ 0.7\\ -0.7\\ 0.7\\
-0.7\\ 0.7\\ -0.7\\ 0.7\\ -0.7\\ 0.7\\ -0.7\\ 0.7\\ -0.7\\ 0.7\\
-0.7\\ 0.7\\ -0.7\\ 0.8\\ -0.8\\ 0.8\\ -0.8\\ 0.8\\ -0.8\\ 0.9\\
-0.9\\ 1.0\\ -1.0\\ 1.0\\ -1.0\\ 1.0\\ -1.0\\ 1.0\\ -0.9\\ -0.9\\
0.9\\ -0.9\\ 1.0\\ -0.9\\ 0.9\\ -0.9\\ 0.9\\ -1.0\\ 0.9\\ 0.9\\
-0.9\\ -0.8\\ 0.8\\ -0.8\\ 0.7\\ -0.7\\ 0.7\\ -0.7\\ 0.7\\ -0.7\\
0.6\\ -0.6\\ 0.6\\ -0.6\\ 0.6\\ -0.6\\ 0.6\\ -0.6\\ 0.6\\ -0.6\\
0.6\\ -0.6\\ 0.6\\ -0.6\\
};
\end{axis}
\end{tikzpicture}
\end{document}
